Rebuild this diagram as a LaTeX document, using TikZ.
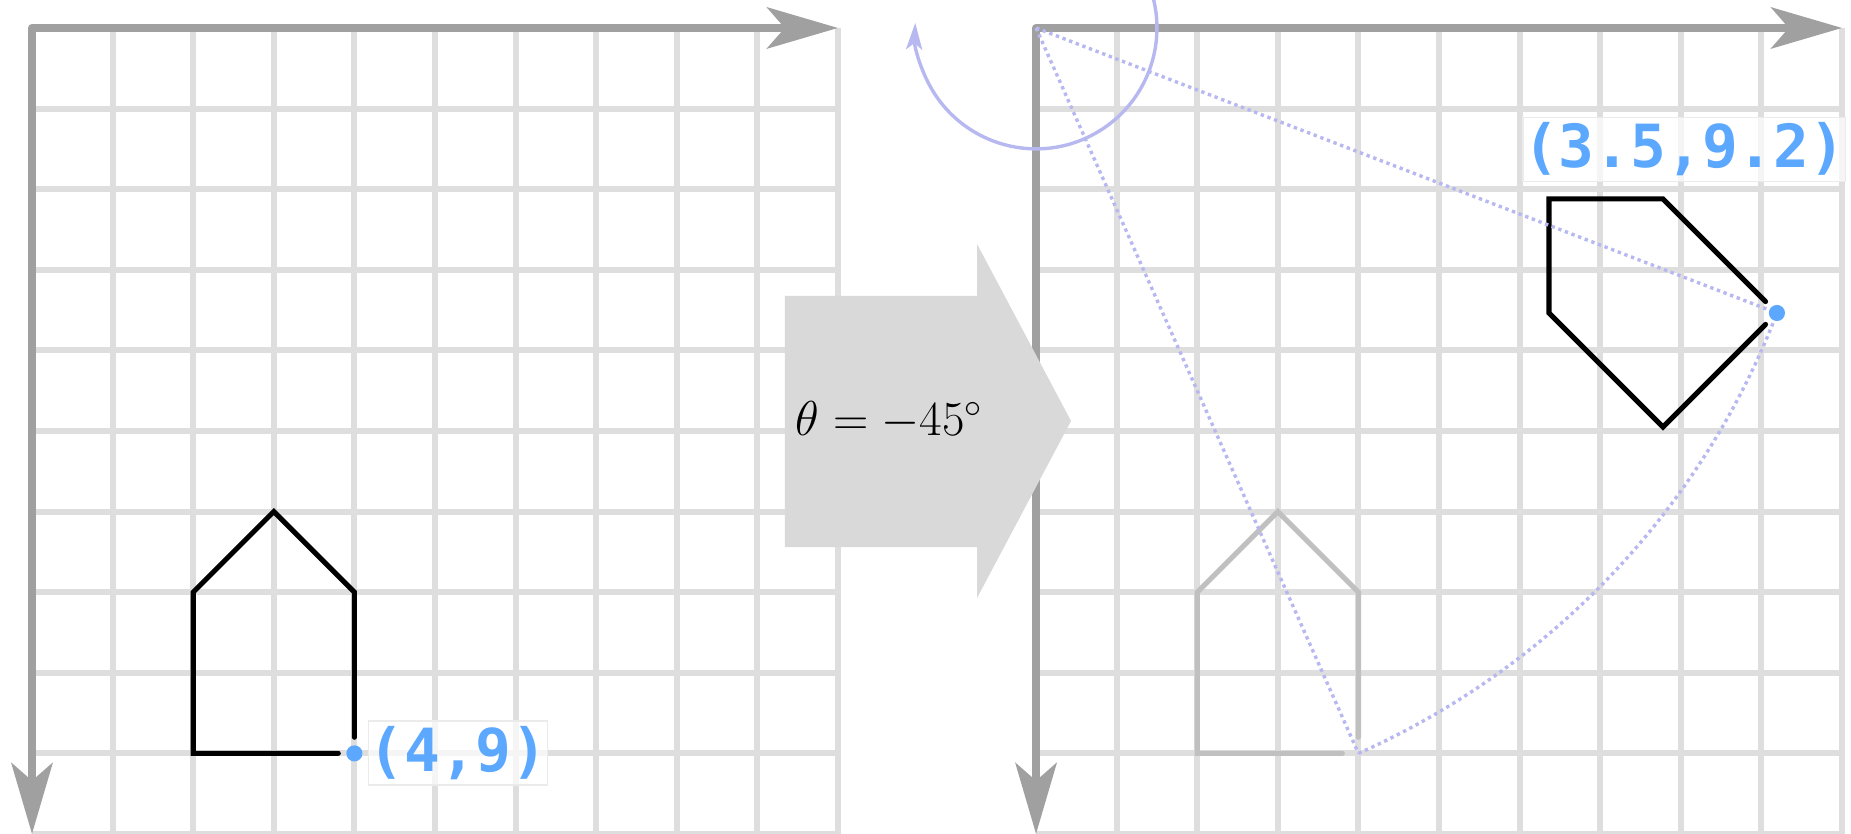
\documentclass[tikz,border=0pt]{standalone}
\usepackage{fontspec}
\newfontfamily\labfont{DejaVu Sans Mono}
\usetikzlibrary{arrows.meta}
\definecolor{gridc}{RGB}{222,222,222}
\definecolor{axisc}{RGB}{160,160,160}
\definecolor{housegray}{RGB}{192,192,192}
\definecolor{lav}{RGB}{184,184,240}
\definecolor{ptblue}{RGB}{92,168,255}
\definecolor{bigarrowc}{RGB}{217,217,217}
\newcommand\drawgrid{%
  \foreach \i in {1,...,10}{%
    \draw[gridline] (\i,0) -- (\i,10);
    \draw[gridline] (0,\i) -- (10,\i);
  }%
  \draw[axisline] (0,10) -- (0,0) -- (10,0);
}
\begin{document}
\begin{tikzpicture}[yscale=-1,
  gridline/.style={draw=gridc, line width=2.1pt},
  axisline/.style={draw=axisc, line width=2.8pt, line join=round,
    {Stealth[length=0.88cm,width=0.51cm,inset=0.22cm]}-{Stealth[length=0.88cm,width=0.51cm,inset=0.22cm]}},
  house/.style={line width=1.8pt, line cap=round, shorten >=0.2cm, shorten <=0.2cm},
  guide/.style={draw=lav, line width=1.2pt, dash pattern=on 1.2pt off 1.3pt},
  ptlabel/.style={fill=white, fill opacity=0.7, text opacity=1, draw=black!8, line width=0.5pt,
    text=ptblue, font=\labfont\bfseries\fontsize{21}{25}\selectfont, inner sep=0pt},
]
\useasboundingbox (0,0) rectangle (22.965,10.335);
\clip (0,0) rectangle (22.965,10.335);
% left grid
\begin{scope}[shift={(0.397,0.347)}]
  \drawgrid
  \coordinate (LP) at (4,9);
  \draw[house] (LP) -- (4,7) -- (3,6) -- (2,7) -- (2,9) -- (LP);
  \fill[ptblue] (LP) circle (0.1);
  \node[ptlabel, minimum width=2.2cm, minimum height=0.79cm] (LL) at (5.285,8.995) {(4,9)};
\end{scope}
% right grid
\begin{scope}[shift={(12.854,0.347)}]
  \drawgrid
  \coordinate (RO) at (0,0);
  \coordinate (RA) at (4,9);
  \coordinate (RB) at (9.192,3.536);
  \coordinate (RS) at (1.299,-0.75);
  \draw[house, draw=housegray] (RA) -- (4,7) -- (3,6) -- (2,7) -- (2,9) -- (RA);
  \draw[house] (RB) -- (7.778,2.121) -- (6.364,2.121) -- (6.364,3.536) -- (7.778,4.950) -- (RB);
  \draw[guide] (RO) -- (RA);
  \draw[guide] (RO) -- (RB);
  \draw[guide] (RA) arc[start angle=66.04, end angle=21.04, radius=9.849];
  \draw[draw=lav, line width=1.2pt, -{Stealth[length=0.33cm,width=0.2cm,inset=0.08cm]}]
    (RS) arc[start angle=-30, end angle=182.4, radius=1.5];
  \fill[ptblue] (RB) circle (0.1);
  \node[ptlabel, minimum width=3.91cm, minimum height=0.80cm] (RL) at (8.042,1.508) {(3.5,9.2)};
\end{scope}
% big arrow
\fill[bigarrowc] (9.739,3.672) -- (12.122,3.672) -- (12.122,3.027) -- (13.288,5.223)
  -- (12.122,7.419) -- (12.122,6.787) -- (9.739,6.787) -- cycle;
\node (theta) at (11.036,5.22) {\fontsize{16.7}{20}\selectfont $\theta = -45^\circ$};
\end{tikzpicture}
\end{document}
